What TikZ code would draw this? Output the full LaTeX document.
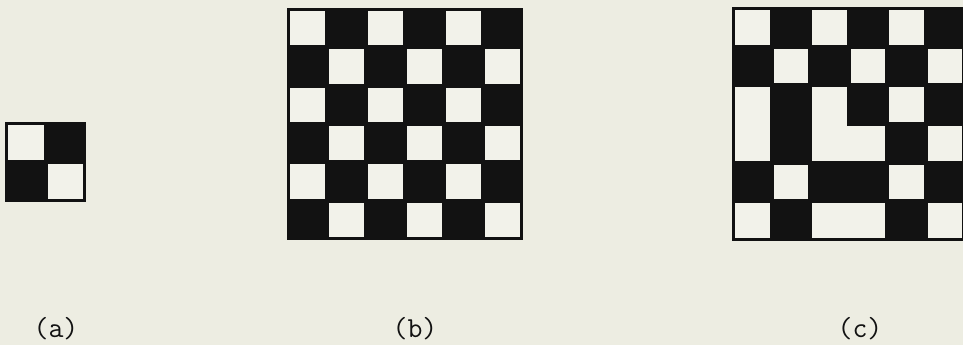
\documentclass[tikz,border=0pt]{standalone}
\usepackage{fontspec}
\definecolor{paper}{RGB}{237,237,226}
\definecolor{chalk}{RGB}{242,242,234}
\definecolor{ink}{RGB}{18,18,18}

\begin{document}
\begin{tikzpicture}[x=1pt, y=-1pt,
    board/.style={fill=ink},
    light/.style={fill=chalk},
    caption/.style={font=\ttfamily\fontsize{29}{33}\selectfont, text=ink,
                    anchor=base, inner sep=0pt}]
  % page, in pixel units of the scan
  \useasboundingbox (0,0) rectangle (963,345);
  \clip (0,0) rectangle (963,345);
  \fill[paper] (0,0) rectangle (963,345);

  % (a) single 2x2 cell
  \fill[board] (5,122) rectangle (86,202);
  \foreach \r in {0,1} \foreach \c in {0,1} {
    \pgfmathtruncatemacro\w{mod(\r+\c,2)}
    \ifnum\w=0
      \fill[light] ({6+\c*39.5+2},{123+\r*39+2})
        rectangle ({6+(\c+1)*39.5-2},{123+(\r+1)*39-2});
    \fi
  }

  % (b) perfect 6x6 lattice
  \fill[board] (287,8) rectangle (523,240);
  \foreach \r in {0,...,5} \foreach \c in {0,...,5} {
    \pgfmathtruncatemacro\w{mod(\r+\c,2)}
    \ifnum\w=0
      \fill[light] ({288+\c*39+2},{9+\r*38.33+2})
        rectangle ({288+(\c+1)*39-2},{9+(\r+1)*38.33-2});
    \fi
  }

  % (c) lattice with the lower left block flipped
  \fill[board] (732,7) rectangle (966,241);
  \foreach \r in {0,...,5} \foreach \c in {0,...,5} {
    \pgfmathtruncatemacro\w{mod(\r+\c+and(\r>2,\c<3),2)}
    \ifnum\w=0
      \fill[light] ({733+\c*38.5+2},{8+\r*38.67+2})
        rectangle ({733+(\c+1)*38.5-2},{8+(\r+1)*38.67-2});
    \fi
  }
  % merged light cells along the fault
  \foreach \ca/\ra/\cb/\rb in {0/2/1/4, 2/2/3/4, 2/3/4/4, 2/5/4/6}
    \fill[light] ({733+\ca*38.5+2},{8+\ra*38.67+2})
      rectangle ({733+\cb*38.5-2},{8+\rb*38.67-2});

  % captions
  \node[caption] (capa) at (56,337) {(a)};
  \node[caption] (capb) at (415,337) {(b)};
  \node[caption] (capc) at (860,337) {(c)};
\end{tikzpicture}
\end{document}
